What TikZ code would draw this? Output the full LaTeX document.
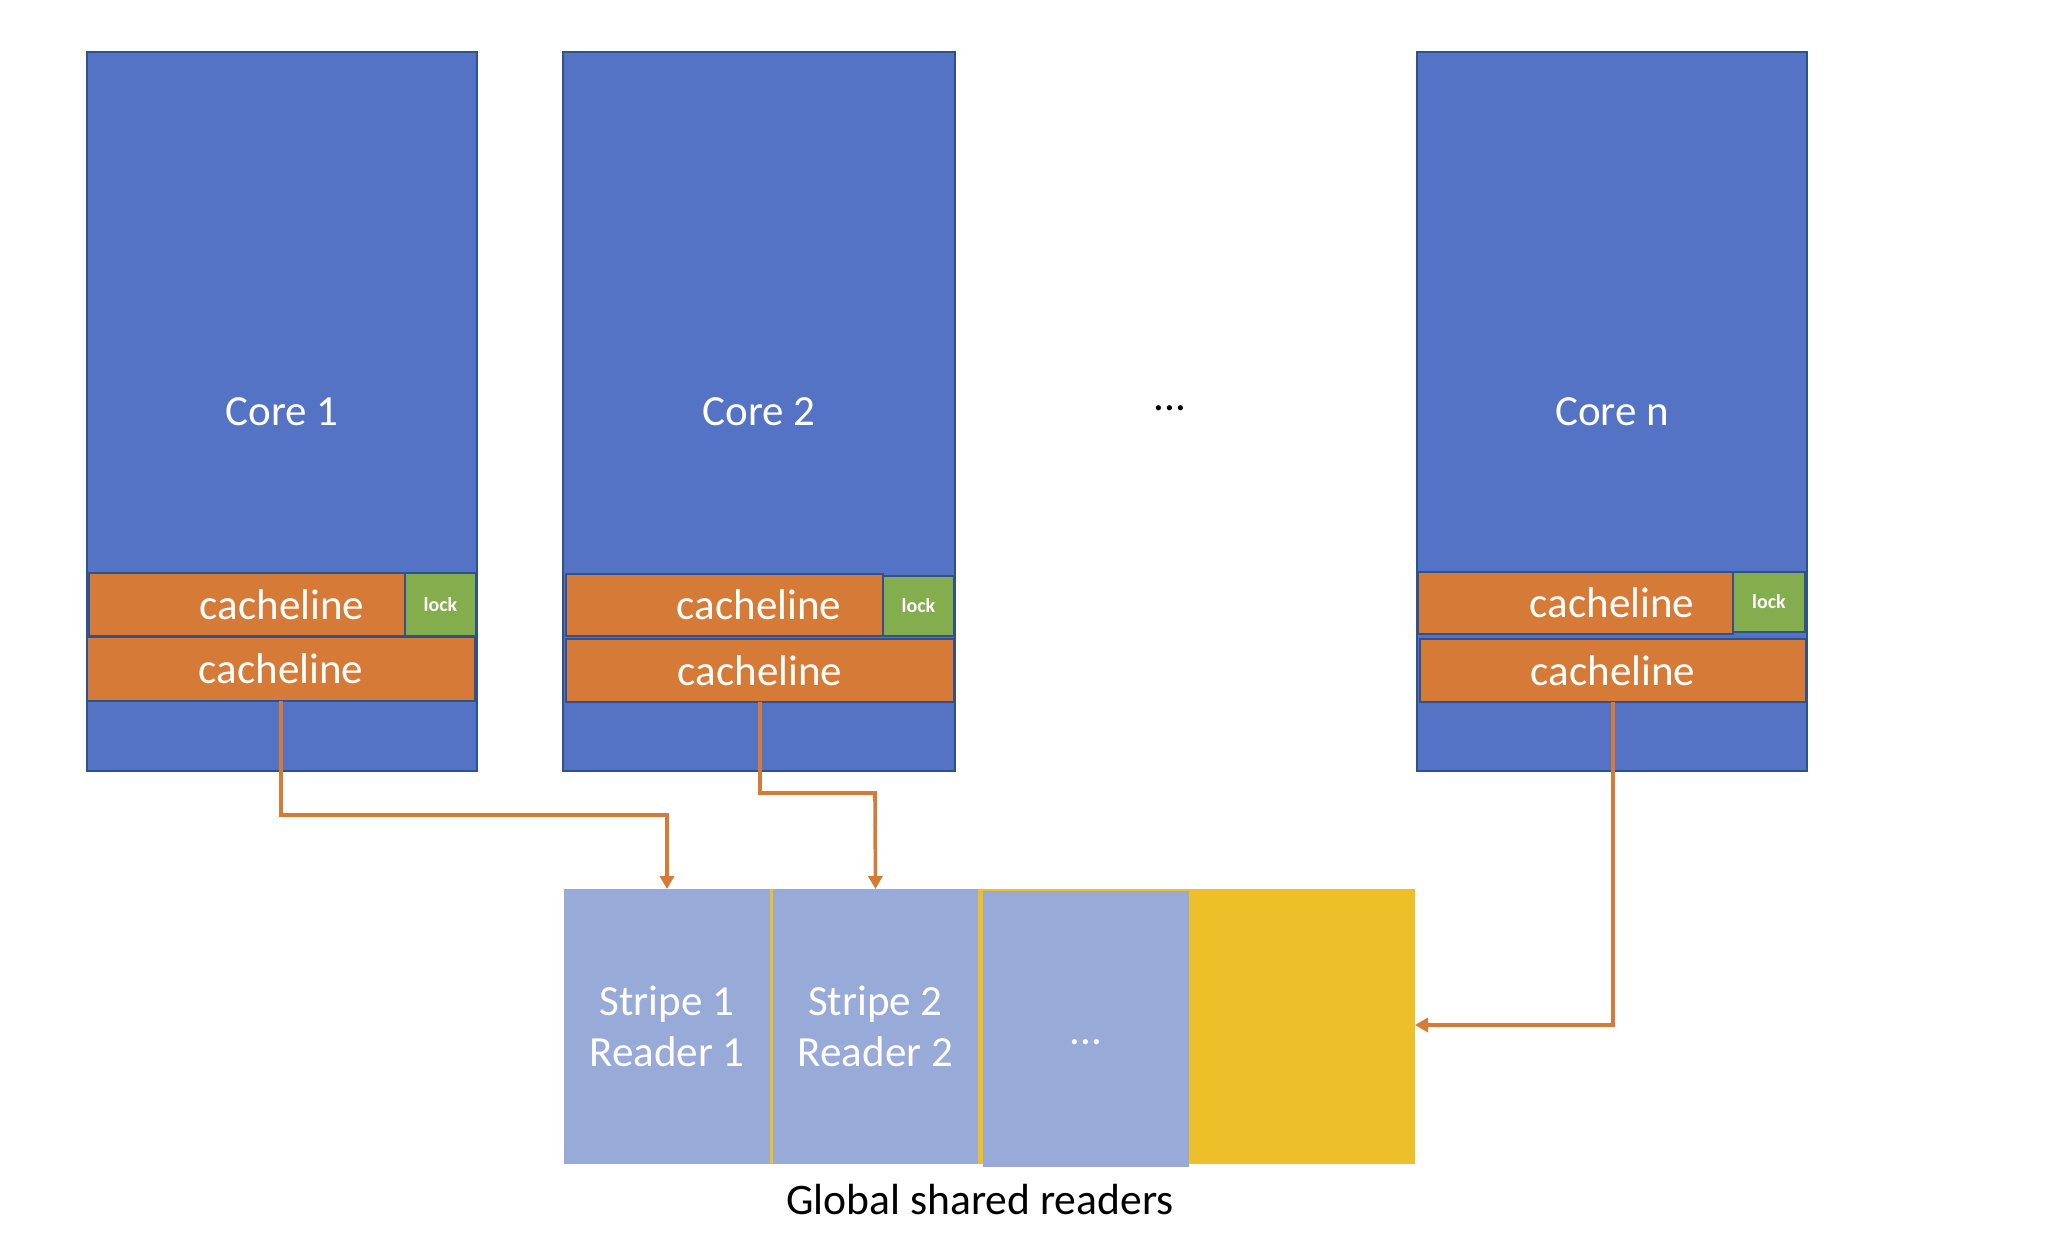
\documentclass[tikz,border=0pt]{standalone}
\usepackage{fontspec}
\setmainfont{Carlito}
\usetikzlibrary{arrows.meta}
\definecolor{coreblue}{HTML}{5473C4}
\definecolor{edgeblue}{HTML}{2F528F}
\definecolor{cacheorange}{HTML}{D57B37}
\definecolor{lockgreen}{HTML}{84AD4E}
\definecolor{stripeblue}{HTML}{97AAD8}
\definecolor{stripeyellow}{HTML}{EDBF28}
\newcommand\rbox[6]{\node[#6, anchor=north west, minimum width={(#4-#2)*0.5pt}, minimum height={(#5-#3)*0.5pt}] (#1) at (#2,#3) {};}
\tikzset{
  base/.style={rectangle, inner sep=0pt, outer sep=0pt},
  core/.style={base, fill=coreblue, draw=edgeblue, line width=1pt},
  cache/.style={base, fill=cacheorange, draw=edgeblue, line width=0.8pt},
  lockbox/.style={base, fill=lockgreen, draw=edgeblue, line width=0.8pt},
  stripe/.style={base, fill=stripeblue},
  yellowbox/.style={base, fill=stripeyellow},
  bigtxt/.style={text=white, font=\fontsize{21.5}{25.5}\selectfont, align=center},
  smalltxt/.style={text=white, font=\bfseries\fontsize{10}{12}\selectfont},
  link/.style={draw=cacheorange, line width=1.8pt, -{Triangle[length=6.5pt,width=7pt]}}
}
\begin{document}
\begin{tikzpicture}[x=0.5pt,y=-0.5pt]
\useasboundingbox (0,0) rectangle (2058,1242);
% cores
\rbox{c1}{87}{52}{477}{771}{core}
\rbox{c2}{563}{52}{955}{771}{core}
\rbox{cn}{1417}{52}{1807}{771}{core}
\node[bigtxt] at (c1.center) {Core 1};
\node[bigtxt] at (c2.center) {Core 2};
\node[bigtxt] at (cn.center) {Core n};
\node[text=black, font=\fontsize{21.5}{25.5}\selectfont] (dots) at (1170,408) {...};
% cachelines core 1
\rbox{c1a}{89}{573}{405}{636}{cache}
\rbox{c1l}{405}{573}{476}{636}{lockbox}
\rbox{c1b}{87}{637}{475}{701}{cache}
\node[bigtxt] at (c1.center |- c1a.center) {cacheline};
\node[smalltxt] at (c1l.center) {lock};
\node[bigtxt] at (c1b.center) {cacheline};
% cachelines core 2
\rbox{c2a}{566}{574}{883}{636}{cache}
\rbox{c2l}{883}{576}{954}{636}{lockbox}
\rbox{c2b}{566}{639}{954}{702}{cache}
\node[bigtxt] at (c2.center |- c2a.center) {cacheline};
\node[smalltxt] at (c2l.center) {lock};
\node[bigtxt] at (c2b.center) {cacheline};
% cachelines core n
\rbox{cna}{1418}{572}{1733}{634}{cache}
\rbox{cnl}{1733}{572}{1805}{632}{lockbox}
\rbox{cnb}{1420}{639}{1806}{702}{cache}
\node[bigtxt] at (cn.center |- cna.center) {cacheline};
\node[smalltxt] at (cnl.center) {lock};
\node[bigtxt] at (cnb.center) {cacheline};
% global shared readers
\rbox{yel}{564}{889}{1415}{1164}{yellowbox}
\rbox{s1}{564}{889}{770}{1164}{stripe}
\rbox{s2}{773}{889}{978}{1164}{stripe}
\rbox{s3}{983}{891}{1189}{1167}{stripe}
\node[bigtxt] at (s1.center) {Stripe 1\\Reader 1};
\node[bigtxt] at (s2.center) {Stripe 2\\Reader 2};
\node[bigtxt] at ([yshift=-6.5pt]s3.center) {...};
\node[text=black, font=\fontsize{21.8}{26}\selectfont] (glob) at (980,1200) {Global shared readers};
% connectors
\draw[link] (c1b.south) |- (667,815) -- (s1.north);
\draw[link] (c2b.south) |- (875,793) -- (s2.north);
\draw[link] (cnb.south) |- (yel.east |- 0,1025);
\end{tikzpicture}
\end{document}
